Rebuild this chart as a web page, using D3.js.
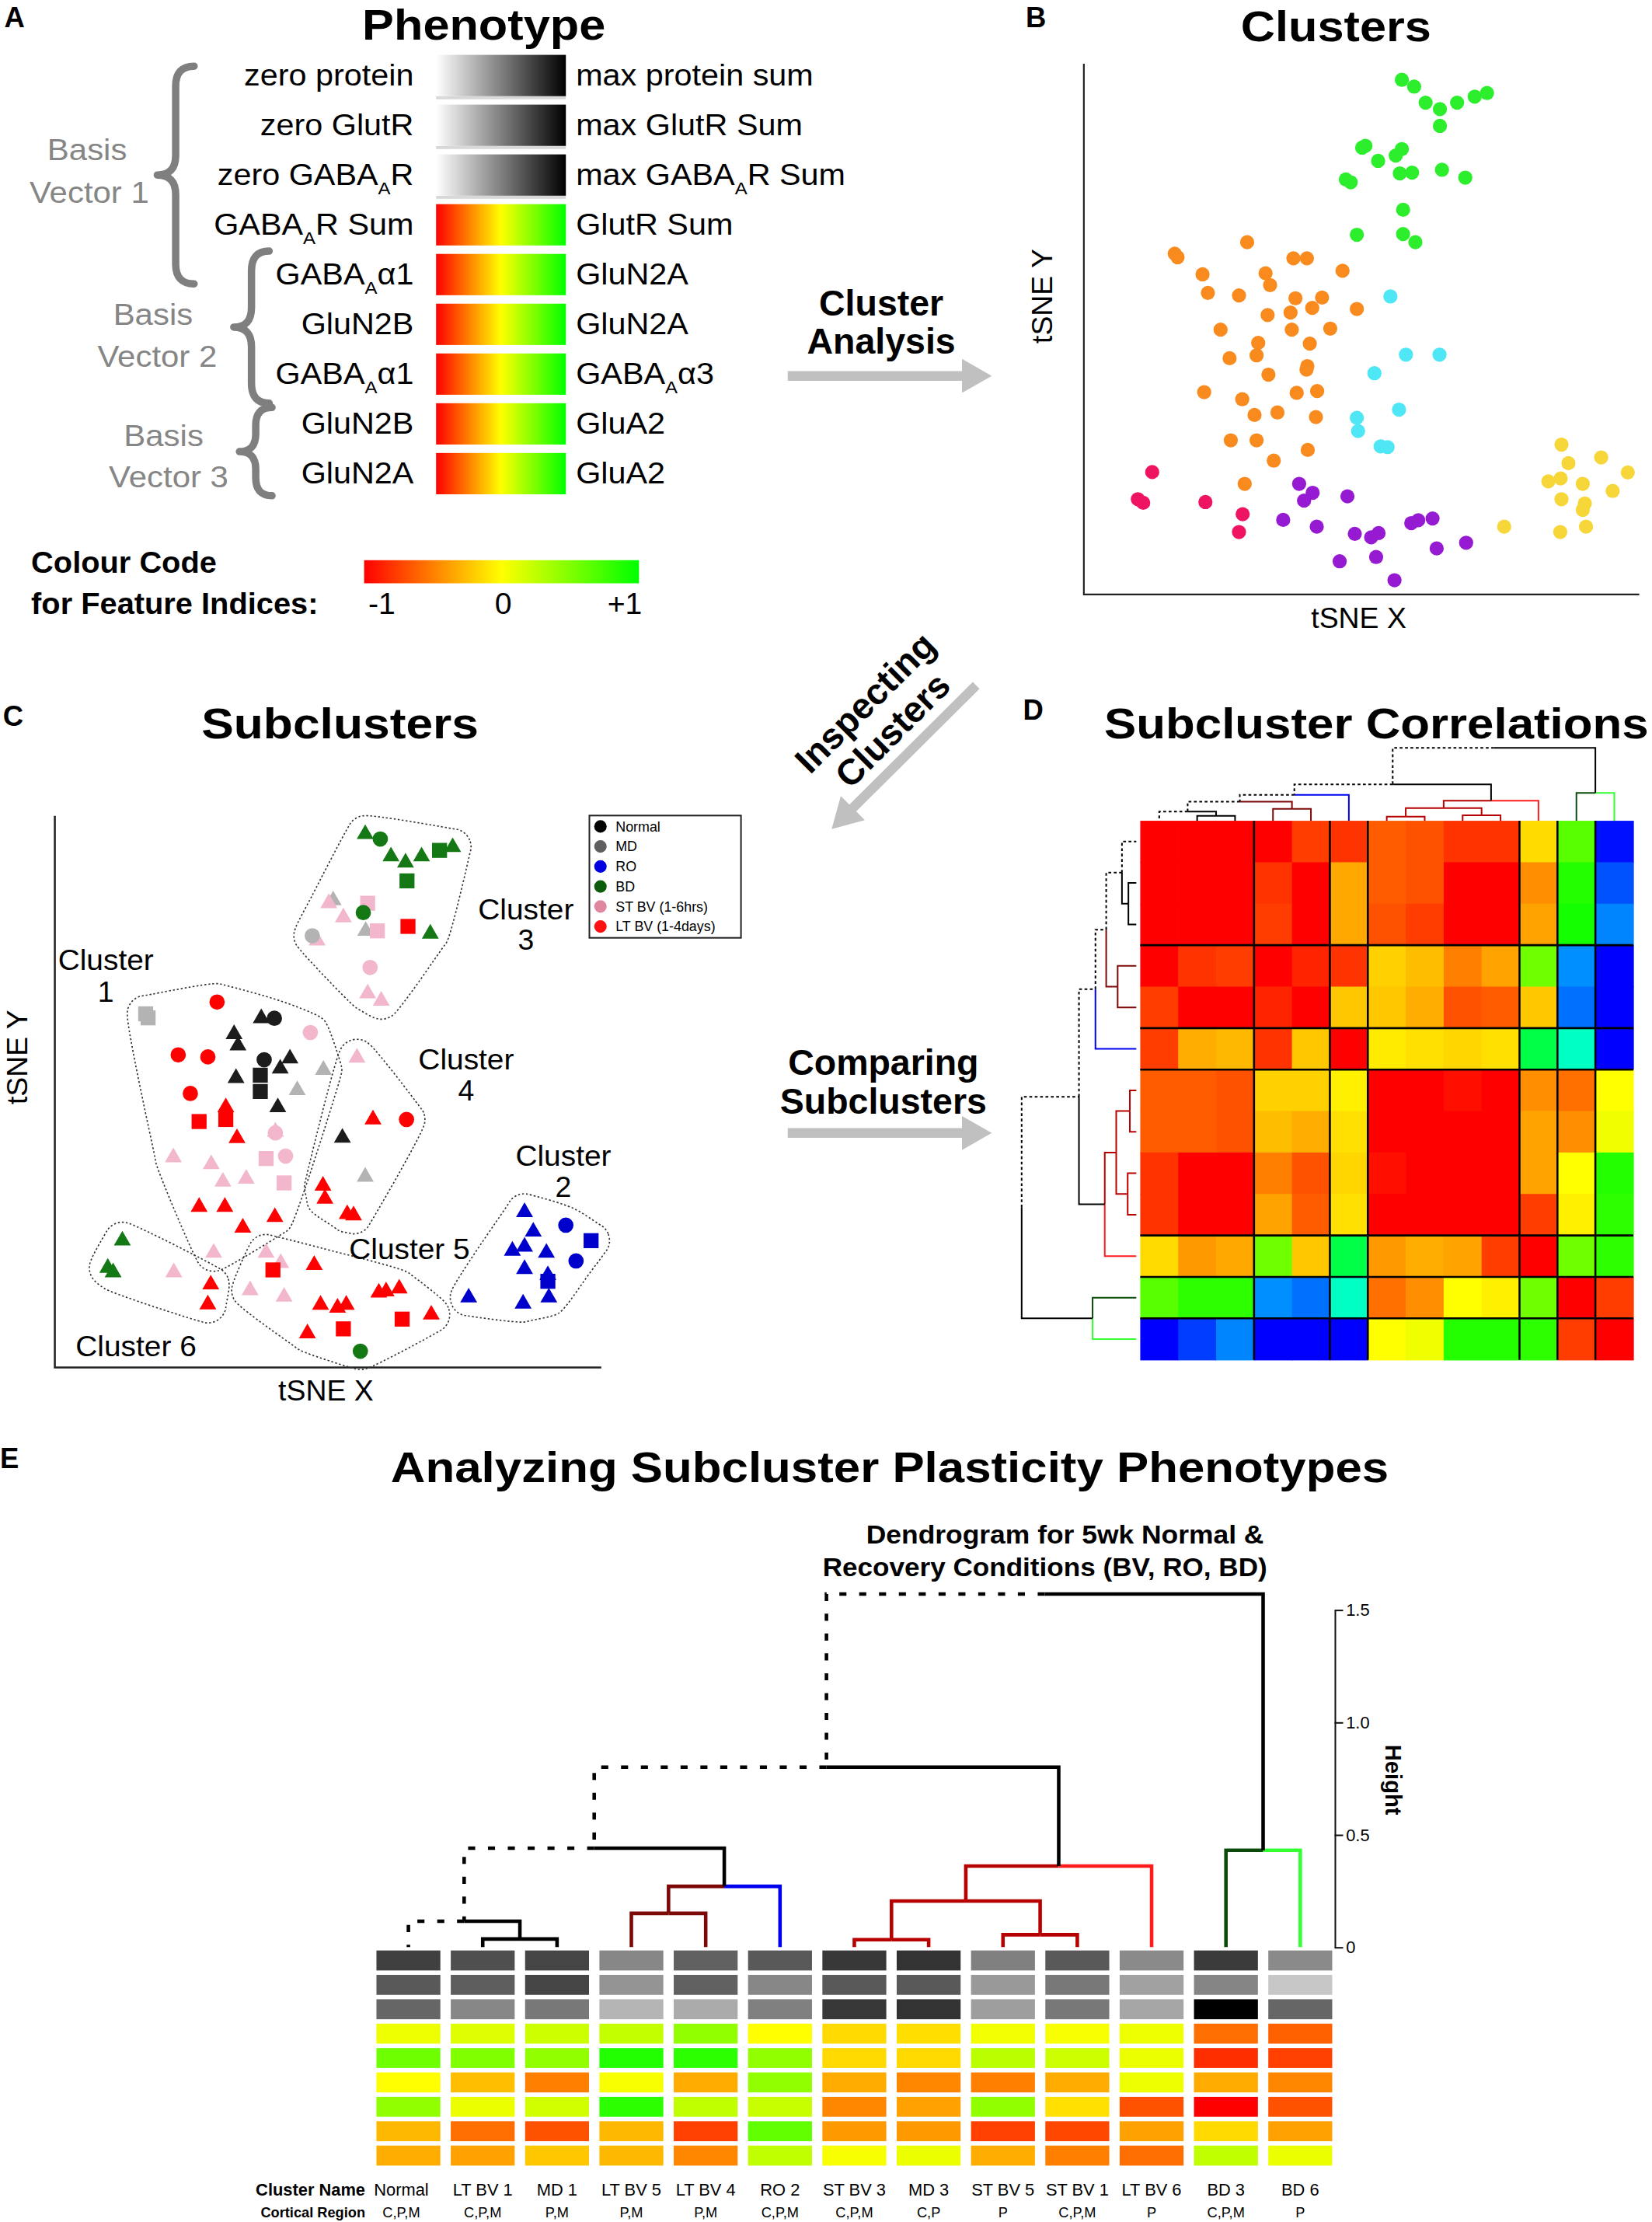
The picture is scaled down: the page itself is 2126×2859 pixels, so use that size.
<!DOCTYPE html>
<html>
<head>
<meta charset="utf-8">
<script src="https://cdn.jsdelivr.net/npm/d3@7"></script>
<style>
  html, body { margin: 0; padding: 0; background: #fff; }
  svg { display: block; }
</style>
</head>
<body>
<div id="chart"></div>
<script>
// ---------- panel A : phenotype features
var phenoLeft = ["zero protein", "zero GlutR", "zero GABA_AR", "GABA_AR Sum", "GABA_A\u03b11", "GluN2B", "GABA_A\u03b11", "GluN2B", "GluN2A"];
var phenoRight = ["max protein sum", "max GlutR Sum", "max GABA_AR Sum", "GlutR Sum", "GluN2A", "GluN2A", "GABA_A\u03b13", "GluA2", "GluA2"];
var phenoKind = ["gray", "gray", "gray", "color", "color", "color", "color", "color", "color"];
var basisNames = [["Basis", "Vector 1"], ["Basis", "Vector 2"], ["Basis", "Vector 3"]];
var basisFirst = [0, 4, 7];
var basisLast = [4, 6, 8];
var featureTicks = [-1, 0, 1];
var featureTickLabels = ["-1", "0", "+1"];

// ---------- panel B : tSNE clusters (arbitrary tSNE units)
var bGreen = [[777,1442],[807,1423],[835,1378],[870,1360],[912,1378],[955,1395],[985,1405],[870,1313],
  [680,1252],[688,1257],[719,1215],[762,1230],[777,1248],[772,1180],[802,1182],[875,1190],[932,1168],
  [640,1163],[652,1155],[780,1078],[667,1008],[780,1010],[810,987]];
var bOrange = [[399,987],[222,955],[229,945],[512,942],[545,942],[290,897],[444,900],[455,867],[632,907],
  [303,845],[379,838],[517,830],[582,832],[558,803],[505,790],[449,783],[667,800],[334,742],[508,742],
  [602,745],[426,705],[552,703],[422,670],[356,662],[546,640],[544,630],[451,616],[294,567],[387,547],
  [520,565],[570,570],[417,503],[473,510],[567,497],[359,432],[422,432],[547,405],[464,375],[393,310]];
var bCyan = [[749,835],[787,672],[869,672],[710,620],[770,518],[667,495],[670,458],[725,415],[742,413]];
var bCrimson = [[167,343],[132,267],[145,257],[297,259],[388,225],[379,175]];
var bPurple = [[526,310],[559,285],[538,263],[644,275],[487,209],[569,190],[662,170],[702,160],[720,172],
  [800,200],[817,208],[852,213],[934,145],[862,129],[625,93],[714,105],[759,40]];
var bYellow = [[1167,420],[1184,368],[1264,384],[1329,342],[1135,317],[1165,325],[1219,310],[1292,290],
  [1167,267],[1224,255],[1219,237],[1027,190],[1164,175],[1227,190]];
var bSeries = [bGreen, bOrange, bCyan, bCrimson, bPurple, bYellow];
var bColors = ["#2cee2c", "#f88a1e", "#4fe6f6", "#ef1462", "#951ad2", "#f7d63a"];

// ---------- panel C : subclusters [x, y, condition, shape]
var c1 = [[187,870,"MD","s"],[192,860,"MD","s"],[334,899,"LT","c"],[425,859,"N","t"],[452,859,"N","c"],
  [526,824,"ST","c"],[369,820,"N","t"],[377,792,"N","t"],[254,769,"LT","c"],[315,764,"LT","c"],
  [431,757,"N","c"],[484,760,"N","t"],[464,735,"N","t"],[423,719,"N","s"],[373,712,"N","t"],
  [423,679,"N","s"],[553,732,"MD","t"],[499,682,"MD","t"],[279,674,"LT","c"],[459,640,"N","t"],
  [352,640,"LT","t"],[297,605,"LT","s"],[352,610,"LT","s"],[454,577,"ST","c"],[454,580,"ST","t"],
  [375,564,"LT","t"],[244,517,"ST","t"],[322,500,"ST","t"],[435,514,"ST","s"],[475,520,"ST","c"],
  [346,457,"ST","t"],[394,464,"ST","t"],[472,454,"ST","s"],[297,395,"LT","t"],[350,395,"LT","t"],
  [453,370,"LT","t"],[387,344,"LT","t"],[327,282,"ST","t"]];
var c2 = [[967,382,"RO","t"],[1052,350,"RO","c"],[985,334,"RO","t"],[1104,312,"RO","s"],[942,287,"RO","t"],
  [967,297,"RO","t"],[1012,282,"RO","t"],[1073,262,"RO","c"],[967,242,"RO","t"],[1015,227,"RO","t"],
  [1015,212,"RO","s"],[852,172,"RO","t"],[964,157,"RO","t"],[1017,172,"RO","t"]];
var c3 = [[639,1312,"BD","t"],[670,1300,"BD","c"],[692,1257,"BD","t"],[722,1242,"BD","t"],[755,1257,"BD","t"],
  [792,1272,"BD","s"],[819,1280,"BD","t"],[725,1197,"BD","s"],[573,1149,"MD","t"],[564,1142,"ST","t"],
  [644,1142,"ST","s"],[635,1119,"BD","c"],[594,1107,"ST","t"],[640,1074,"MD","t"],[664,1074,"ST","s"],
  [727,1085,"LT","s"],[773,1067,"BD","t"],[540,1050,"ST","t"],[530,1062,"MD","c"],[649,984,"ST","c"],
  [644,920,"ST","t"],[672,902,"ST","t"]];
var c4 = [[622,762,"ST","t"],[655,610,"LT","t"],[724,610,"LT","c"],[592,565,"N","t"],[639,469,"MD","t"],
  [552,447,"LT","t"],[556,415,"LT","t"],[602,377,"LT","t"],[615,374,"LT","t"]];
var c5 = [[435,282,"ST","t"],[465,257,"ST","t"],[449,240,"LT","s"],[534,252,"LT","t"],[402,190,"ST","t"],
  [472,174,"ST","t"],[667,184,"LT","t"],[682,187,"LT","t"],[709,194,"LT","t"],[547,154,"LT","t"],
  [582,147,"LT","t"],[600,154,"LT","t"],[715,119,"LT","s"],[775,130,"LT","t"],[594,95,"LT","s"],
  [520,84,"LT","t"],[629,40,"BD","c"]];
var c6 = [[139,312,"BD","t"],[109,245,"BD","t"],[120,234,"BD","t"],[245,234,"ST","t"],[321,204,"LT","t"],
  [315,155,"LT","t"]];
var cSeries = [c1, c2, c3, c4, c5, c6];
var conditions = ["N", "MD", "RO", "BD", "ST", "LT"];
var conditionNames = ["Normal", "MD", "RO", "BD", "ST BV (1-6hrs)", "LT BV (1-4days)"];
var conditionColors = ["#1c1c1c", "#b3b3b3", "#0000cc", "#147814", "#f3b7cd", "#ff0000"];
var conditionLegendColors = ["#000000", "#5f5f5f", "#0000e0", "#0b5c0b", "#de879f", "#ff1010"];

// ---------- panels D and E : subclusters
var clusterNames = ["Normal", "LT BV 1", "MD 1", "LT BV 5", "LT BV 4", "RO 2", "ST BV 3", "MD 3", "ST BV 5", "ST BV 1", "LT BV 6", "BD 3", "BD 6"];
var corticalRegions = ["C,P,M", "C,P,M", "P,M", "P,M", "P,M", "C,P,M", "C,P,M", "C,P", "P", "C,P,M", "P", "C,P,M", "P"];
var branchColors = ["#000000", "#000000", "#000000", "#7c0808", "#7c0808", "#0000f0", "#b80000", "#b80000", "#b80000", "#b80000", "#ff1c1c", "#0a4a0a", "#33ff33"];

// correlation matrix of subclusters (panel D)
var corrD = [
  [1, 1, 1, 1, 0.88, 0.9, 0.82, 0.84, 0.9, 0.9, 0.57, 0.17, -0.97],
  [1, 1, 1, 0.9, 1, 0.67, 0.82, 0.84, 1, 1, 0.72, 0.07, -0.84],
  [1, 1, 1, 0.88, 1, 0.67, 0.84, 0.88, 1, 1, 0.68, 0.04, -0.74],
  [1, 0.9, 0.88, 1, 0.93, 0.9, 0.59, 0.63, 0.75, 0.68, 0.22, -0.72, -1],
  [0.88, 1, 1, 0.93, 1, 0.61, 0.61, 0.66, 0.84, 0.82, 0.61, -0.78, -1],
  [0.88, 0.66, 0.64, 0.9, 0.61, 1, 0.54, 0.56, 0.58, 0.56, -0.14, -0.38, -1],
  [0.82, 0.82, 0.84, 0.59, 0.59, 0.53, 1, 1, 0.97, 1, 0.72, 0.78, 0.5],
  [0.82, 0.82, 0.84, 0.63, 0.66, 0.56, 1, 1, 1, 1, 0.68, 0.72, 0.47],
  [0.9, 1, 1, 0.75, 0.84, 0.58, 0.97, 1, 1, 1, 0.68, 0.5, 0.07],
  [0.9, 1, 1, 0.68, 0.82, 0.56, 1, 1, 1, 1, 0.88, 0.53, 0.09],
  [0.57, 0.7, 0.67, 0.22, 0.61, -0.14, 0.7, 0.66, 0.68, 0.88, 1, 0.22, 0.09],
  [0.17, 0.09, 0.09, -0.72, -0.78, -0.38, 0.78, 0.72, 0.5, 0.53, 0.22, 1, 0.88],
  [-1, -0.88, -0.74, -1, -1, -1, 0.5, 0.47, 0.07, 0.07, 0.09, 0.88, 1]
];
var groupBreaks = [3, 5, 6, 10, 11, 12];
// merges: [left, right, height]; numbers are leaves, "mK" is the K-th merge
var mergesD = [[1, 2, 0.11], [0, "m0", 0.2], [3, 4, 0.26], ["m1", "m2", 0.42], ["m3", 5, 0.57],
  [6, 7, 0.09], [8, 9, 0.12], ["m5", "m6", 0.28], ["m7", 10, 0.44], ["m4", "m8", 0.8],
  [11, 12, 0.61], ["m9", "m10", 1.6]];
var mergesE = [[1, 2, 0.036], [0, "m0", 0.115], [3, 4, 0.15], ["m2", 5, 0.27], ["m1", "m3", 0.44],
  [6, 7, 0.033], [8, 9, 0.055], ["m5", "m6", 0.205], ["m7", 10, 0.36], ["m4", "m8", 0.8],
  [11, 12, 0.43], ["m9", "m10", 1.57]];
var heightTicks = [0, 0.5, 1, 1.5];

// panel E : protein sums (0 = zero, 1 = max) and feature indices (-1 .. +1)
var sumProtein = [0.75, 0.69, 0.73, 0.47, 0.62, 0.65, 0.78, 0.8, 0.5, 0.65, 0.46, 0.77, 0.46];
var sumGlutR = [0.65, 0.63, 0.73, 0.42, 0.62, 0.47, 0.65, 0.65, 0.4, 0.53, 0.37, 0.48, 0.22];
var sumGabaR = [0.6, 0.47, 0.53, 0.29, 0.33, 0.5, 0.78, 0.8, 0.38, 0.53, 0.35, 1, 0.6];
var idxGabaGlut = [0.07, 0.13, 0.2, 0.23, 0.43, 0, -0.15, -0.13, 0.05, 0.03, 0.07, -0.57, -0.62];
var idxA1N2A = [0.57, 0.5, 0.43, 0.87, 0.83, 0.43, -0.15, -0.15, 0.27, 0.2, 0.08, -0.82, -0.75];
var idxN2BN2A = [0, -0.25, -0.5, 0.03, -0.33, 0.43, -0.33, -0.47, -0.5, -0.33, 0.07, -0.33, -0.47];
var idxA1A3 = [0.43, 0.08, 0.18, 0.83, 0.25, 0.22, -0.47, -0.37, 0.43, -0.12, -0.68, -1, -0.68];
var idxN2BA2 = [-0.28, -0.57, -0.68, -0.28, -0.75, 0.62, -0.4, -0.4, -0.75, -0.72, -0.37, -0.15, -0.37];
var idxN2AA2 = [-0.32, -0.37, -0.22, -0.28, -0.47, 0.25, 0.03, 0.08, -0.32, -0.5, -0.57, 0.25, 0.08];
var sumRows = [sumProtein, sumGlutR, sumGabaR];
var indexRows = [idxGabaGlut, idxA1N2A, idxN2BN2A, idxA1A3, idxN2BA2, idxN2AA2];

// ---------- scales and helpers
var FONT = '"Liberation Sans", Arial, Helvetica, sans-serif';
var featColor = d3.scaleLinear().domain([-1, 0, 1]).range(["#ff0000", "#ffff00", "#00ff00"]);
var sumColor = d3.scaleLinear().domain([0, 1]).range(["#ffffff", "#000000"]);
var corrColor = d3.scaleLinear().domain([-1, -0.5, 0, 0.5, 1])
  .range(["#0000ff", "#00ffff", "#00ff00", "#ffff00", "#ff0000"]);

var svg = d3.select("#chart").append("svg")
  .attr("width", 2126)
  .attr("height", 2859)
  .attr("viewBox", "0 0 1166 1568")
  .style("font-family", FONT);

svg.append("rect").attr("width", 1166).attr("height", 1568).attr("fill", "#fff");

function txt(parent, x, y, s, size, anchor, weight, fill) {
  return parent.append("text")
    .attr("x", x).attr("y", y)
    .attr("font-size", size)
    .attr("text-anchor", anchor || "start")
    .attr("font-weight", weight || "normal")
    .attr("fill", fill || "#000")
    .text(s);
}

// the original lettering is a little wider than Liberation Sans
function stretch(t, k) {
  var len = t.node().getComputedTextLength();
  return t.attr("textLength", len * k).attr("lengthAdjust", "spacingAndGlyphs");
}

// text with "_A" style subscripts
function richText(parent, x, y, s, size, anchor) {
  var t = parent.append("text")
    .attr("x", x).attr("y", y)
    .attr("font-size", size)
    .attr("text-anchor", anchor);
  var parts = s.split("_");
  t.append("tspan").text(parts[0]);
  for (var i = 1; i < parts.length; i++) {
    t.append("tspan").attr("dy", size * 0.3).attr("font-size", size * 0.58).text(parts[i].charAt(0));
    t.append("tspan").attr("dy", -size * 0.3).text(parts[i].slice(1));
  }
  return t;
}

function arrowPath(x1, y1, x2, y2) {
  var dx = x2 - x1, dy = y2 - y1, len = Math.sqrt(dx * dx + dy * dy);
  var ux = dx / len, uy = dy / len, nx = -uy, ny = ux;
  var sw = 3.4, hw = 12, hl = 21;
  var bx = x2 - ux * hl, by = y2 - uy * hl;
  var p = [
    [x1 + nx * sw, y1 + ny * sw], [bx + nx * sw, by + ny * sw], [bx + nx * hw, by + ny * hw],
    [x2, y2], [bx - nx * hw, by - ny * hw], [bx - nx * sw, by - ny * sw], [x1 - nx * sw, y1 - ny * sw]
  ];
  return "M" + p.map(function (d) { return d[0] + "," + d[1]; }).join("L") + "Z";
}

function bracePath(xTip, xEnd, y1, y2) {
  var ym = (y1 + y2) / 2, xm = (xTip + xEnd) / 2;
  var q = Math.min(14, (y2 - y1) / 5);
  return "M" + xEnd + "," + y1 +
    "Q" + xm + "," + y1 + " " + xm + "," + (y1 + q) +
    "L" + xm + "," + (ym - q) +
    "Q" + xm + "," + ym + " " + xTip + "," + ym +
    "Q" + xm + "," + ym + " " + xm + "," + (ym + q) +
    "L" + xm + "," + (y2 - q) +
    "Q" + xm + "," + y2 + " " + xEnd + "," + y2;
}

// dendrogram links from a merge table
function treeLinks(merges, leafPos) {
  var nodes = {};
  var links = [];
  function get(ref) {
    if (typeof ref === "number") {
      return { p: leafPos(ref), h: 0, color: branchColors[ref], leaves: [ref] };
    }
    return nodes[ref];
  }
  merges.forEach(function (m, i) {
    var a = get(m[0]), b = get(m[1]);
    var node = {
      p: (a.p + b.p) / 2, h: m[2],
      color: a.color === b.color ? a.color : "#000000",
      leaves: a.leaves.concat(b.leaves)
    };
    [a, b].forEach(function (c) {
      links.push({ pp: node.p, ph: node.h, cp: c.p, ch: c.h, color: c.color, dashed: c.leaves.indexOf(0) >= 0 });
    });
    nodes["m" + i] = node;
  });
  return links;
}

function drawTree(g, links, hScale, vertical, width, dash) {
  g.selectAll("path").data(links).enter().append("path")
    .attr("d", function (d) {
      if (vertical) {
        return "M" + d.pp + "," + hScale(d.ph) + "H" + d.cp + "V" + hScale(d.ch);
      }
      return "M" + hScale(d.ph) + "," + d.pp + "V" + d.cp + "H" + hScale(d.ch);
    })
    .attr("fill", "none")
    .attr("stroke", function (d) { return d.color; })
    .attr("stroke-width", width)
    .attr("stroke-dasharray", function (d) { return d.dashed ? dash : null; });
}

// gradients
var defs = svg.append("defs");
var gGray = defs.append("linearGradient").attr("id", "gradGray");
gGray.append("stop").attr("offset", 0).attr("stop-color", "#ffffff");
gGray.append("stop").attr("offset", 1).attr("stop-color", "#000000");
var gFeat = defs.append("linearGradient").attr("id", "gradFeat");
featureTicks.forEach(function (v) {
  gFeat.append("stop").attr("offset", (v + 1) / 2).attr("stop-color", featColor(v));
});

// ---------- panel labels and titles
var panelLetters = [["A", 3, 19], ["B", 724, 19], ["C", 2, 512], ["D", 722, 508], ["E", 0, 1036]];
panelLetters.forEach(function (p) { txt(svg, p[1], p[2], p[0], 20, "start", "bold"); });
stretch(txt(svg, 341.5, 28, "Phenotype", 30, "middle", "bold"), 1.12);
stretch(txt(svg, 943, 29, "Clusters", 30, "middle", "bold"), 1.12);
stretch(txt(svg, 240, 521, "Subclusters", 30, "middle", "bold"), 1.14);
stretch(txt(svg, 971.5, 521, "Subcluster Correlations", 30, "middle", "bold"), 1.13);
stretch(txt(svg, 628, 1046, "Analyzing Subcluster Plasticity Phenotypes", 30, "middle", "bold"), 1.13);

// ---------- panel A
var gA = svg.append("g");
var rowA = d3.scaleBand().domain(d3.range(phenoLeft.length)).range([38.7, 348.8]).paddingInner(0.17);
gA.selectAll("rect.shadow").data(phenoKind.filter(function (d) { return d === "gray"; })).enter().append("rect")
  .attr("x", 307.8).attr("width", 91.6)
  .attr("y", function (d, i) { return rowA(i) + rowA.bandwidth(); })
  .attr("height", 2.2)
  .attr("fill", "#d8d8d8");
gA.selectAll("rect.bar").data(phenoKind).enter().append("rect")
  .attr("x", 307.8).attr("width", 91.6)
  .attr("y", function (d, i) { return rowA(i); })
  .attr("height", rowA.bandwidth())
  .attr("fill", function (d) { return d === "gray" ? "url(#gradGray)" : "url(#gradFeat)"; });
phenoLeft.forEach(function (s, i) {
  stretch(richText(gA, 292, rowA(i) + rowA.bandwidth() / 2 + 7, s, 21.5, "end"), 1.055);
});
phenoRight.forEach(function (s, i) {
  stretch(richText(gA, 406.5, rowA(i) + rowA.bandwidth() / 2 + 7, s, 21.5, "start"), 1.055);
});
// braces for the basis vectors
var braceX = [[111, 137], [165, 190], [169, 192]];
var braceInset = [[8, 8], [-2, -6], [3, -1]];
var basisText = [[61.5, 113, 63, 143], [108, 229.5, 111, 259], [115.5, 315, 119, 344]];
basisNames.forEach(function (nm, k) {
  var y1 = rowA(basisFirst[k]) + braceInset[k][0];
  var y2 = rowA(basisLast[k]) + rowA.bandwidth() - braceInset[k][1];
  gA.append("path").attr("d", bracePath(braceX[k][0], braceX[k][1], y1, y2))
    .attr("fill", "none").attr("stroke", "#7f7f7f").attr("stroke-width", 5.2)
    .attr("stroke-linecap", "round").attr("stroke-linejoin", "round");
  stretch(txt(gA, basisText[k][0], basisText[k][1], nm[0], 21.5, "middle", "normal", "#868686"), 1.07);
  stretch(txt(gA, basisText[k][2], basisText[k][3], nm[1], 21.5, "middle", "normal", "#868686"), 1.07);
});
// colour code legend
stretch(txt(gA, 22, 404, "Colour Code", 21, "start", "bold"), 1.04);
stretch(txt(gA, 22, 433, "for Feature Indices:", 21, "start", "bold"), 1.04);
gA.append("rect").attr("x", 257).attr("y", 395.3).attr("width", 194).attr("height", 16.3)
  .attr("fill", "url(#gradFeat)");
var legX = d3.scaleLinear().domain([-1, 1]).range([269.5, 441]);
featureTicks.forEach(function (v, i) {
  txt(gA, legX(v), 433, featureTickLabels[i], 21.5, "middle");
});

// ---------- arrows between panels
var gArr = svg.append("g");
gArr.append("path").attr("d", arrowPath(556, 265.3, 700, 265.3)).attr("fill", "#c0c0c0");
gArr.append("path").attr("d", arrowPath(556, 799.5, 700, 799.5)).attr("fill", "#c0c0c0");
gArr.append("path").attr("d", arrowPath(689, 483.6, 587, 585)).attr("fill", "#c0c0c0");
txt(gArr, 622, 222.5, "Cluster", 25.5, "middle", "bold");
txt(gArr, 622, 249.5, "Analysis", 25.5, "middle", "bold");
txt(gArr, 623.5, 758.5, "Comparing", 25.5, "middle", "bold");
txt(gArr, 623.5, 786, "Subclusters", 25.5, "middle", "bold");
var gRot = gArr.append("g").attr("transform", "translate(620.3,505.5) rotate(-45)");
txt(gRot, 0, -5, "Inspecting", 25.5, "middle", "bold");
txt(gRot, 0, 22.5, "Clusters", 25.5, "middle", "bold");

// ---------- panel B
var gB = svg.append("g");
var xB = d3.scaleLinear().domain([0, 1357]).range([765, 1157]);
var yB = d3.scaleLinear().domain([0, 1487]).range([419.5, 45]);
gB.append("path").attr("d", "M" + xB(0) + "," + yB(1487) + "V" + yB(0) + "H" + xB(1357))
  .attr("fill", "none").attr("stroke", "#222").attr("stroke-width", 1.2);
bSeries.forEach(function (pts, k) {
  gB.selectAll(null).data(pts).enter().append("circle")
    .attr("cx", function (d) { return xB(d[0]); })
    .attr("cy", function (d) { return yB(d[1]); })
    .attr("r", 5)
    .attr("fill", bColors[k]);
});
txt(gB, 959, 443, "tSNE X", 20.5, "middle");
txt(gB, 0, 0, "tSNE Y", 20.5, "middle").attr("transform", "translate(742.5,209) rotate(-90)");

// ---------- panel C
var gC = svg.append("g");
var xC = d3.scaleLinear().domain([0, 1125]).range([38.7, 424.4]);
var yC = d3.scaleLinear().domain([0, 1357]).range([965, 575.7]);
gC.append("path").attr("d", "M" + xC(0) + "," + yC(1357) + "V" + yC(0) + "H" + xC(1125))
  .attr("fill", "none").attr("stroke", "#222").attr("stroke-width", 1.4);

// dotted outlines around each subcluster
cSeries.forEach(function (pts) {
  var ring = [];
  pts.forEach(function (p) {
    for (var k = 0; k < 16; k++) {
      var a = k / 16 * 2 * Math.PI;
      ring.push([xC(p[0]) + 13 * Math.cos(a), yC(p[1]) + 13 * Math.sin(a)]);
    }
  });
  var hull = d3.polygonHull(ring);
  gC.append("path").attr("d", d3.line().curve(d3.curveCatmullRomClosed)(hull))
    .attr("fill", "none").attr("stroke", "#333").attr("stroke-width", 0.9)
    .attr("stroke-dasharray", "1.3,1.5");
});

var symbolType = { c: d3.symbolCircle, t: d3.symbolTriangle, s: d3.symbolSquare };
var symbolSize = { c: 92, t: 62, s: 112 };
cSeries.forEach(function (pts) {
  gC.selectAll(null).data(pts).enter().append("path")
    .attr("transform", function (d) { return "translate(" + xC(d[0]) + "," + yC(d[1]) + ")"; })
    .attr("d", function (d) { return d3.symbol().type(symbolType[d[3]]).size(symbolSize[d[3]])(); })
    .attr("fill", function (d) { return conditionColors[conditions.indexOf(d[2])]; });
});

var clusterLabels = [
  ["Cluster", "1", 74.7, 684.7, 706.8], ["Cluster", "2", 397.6, 822.4, 844.5],
  ["Cluster", "3", 371.2, 648.8, 670.4], ["Cluster", "4", 329, 754.4, 776.5],
  ["Cluster 5", null, 289, 888.4], ["Cluster 6", null, 96, 957.2]
];
clusterLabels.forEach(function (c) {
  stretch(txt(gC, c[2], c[3], c[0], 20.5, "middle"), 1.04);
  if (c[1]) txt(gC, c[2], c[4], c[1], 20.5, "middle");
});
txt(gC, 230, 988.5, "tSNE X", 20.5, "middle");
txt(gC, 0, 0, "tSNE Y", 20.5, "middle").attr("transform", "translate(19,746) rotate(-90)");

// legend
var gLeg = gC.append("g");
gLeg.append("rect").attr("x", 416).attr("y", 575.5).attr("width", 107).attr("height", 86.3)
  .attr("fill", "#fff").attr("stroke", "#222").attr("stroke-width", 1.1);
var legY = d3.scaleLinear().domain([0, 5]).range([583.2, 653.8]);
conditionNames.forEach(function (nm, i) {
  gLeg.append("circle").attr("cx", 423.8).attr("cy", legY(i)).attr("r", 4.4)
    .attr("fill", conditionLegendColors[i]);
  txt(gLeg, 434.5, legY(i) + 3.4, nm, 9.8, "start");
});

// ---------- panel D
var gD = svg.append("g");
var xD = d3.scaleBand().domain(d3.range(13)).range([804.8, 1152.8]);
var yD = d3.scaleBand().domain(d3.range(13)).range([579.2, 959.6]);
corrD.forEach(function (row, i) {
  gD.selectAll(null).data(row).enter().append("rect")
    .attr("x", function (d, j) { return xD(j); })
    .attr("y", yD(i))
    .attr("width", xD.bandwidth() + 0.4)
    .attr("height", yD.bandwidth() + 0.4)
    .attr("fill", function (d) { return corrColor(d); });
});
groupBreaks.forEach(function (b) {
  gD.append("line").attr("x1", xD(b)).attr("x2", xD(b)).attr("y1", yD.range()[0]).attr("y2", yD.range()[1])
    .attr("stroke", "#000").attr("stroke-width", 1.4);
  gD.append("line").attr("y1", yD(b)).attr("y2", yD(b)).attr("x1", xD.range()[0]).attr("x2", xD.range()[1])
    .attr("stroke", "#000").attr("stroke-width", 1.4);
});
var hTopD = d3.scaleLinear().domain([0, 1.6]).range([579.2, 527.8]);
var hLeftD = d3.scaleLinear().domain([0, 1.6]).range([802, 721.1]);
drawTree(gD.append("g"), treeLinks(mergesD, function (i) { return xD(i) + xD.bandwidth() / 2; }),
  hTopD, true, 1.1, "2,1.8");
drawTree(gD.append("g"), treeLinks(mergesD, function (i) { return yD(i) + yD.bandwidth() / 2; }),
  hLeftD, false, 1.1, "2,1.8");

// ---------- panel E
var gE = svg.append("g");
var xE = d3.scaleBand().domain(d3.range(13)).range([265.7, 940.3]).paddingInner(0.14);
var yE = d3.scaleBand().domain(d3.range(9)).range([1376.4, 1528.2]).paddingInner(0.18);
var allRows = sumRows.concat(indexRows);
allRows.forEach(function (row, r) {
  gE.selectAll(null).data(row).enter().append("rect")
    .attr("x", function (d, j) { return xE(j); })
    .attr("y", yE(r))
    .attr("width", xE.bandwidth())
    .attr("height", yE.bandwidth())
    .attr("fill", function (d) { return r < sumRows.length ? sumColor(d) : featColor(d); });
});
var hE = d3.scaleLinear().domain([0, 1.5]).range([1374, 1374 - 1.5 * 158.7]);
drawTree(gE.append("g"), treeLinks(mergesE, function (i) { return xE(i) + xE.bandwidth() / 2; }),
  hE, true, 2.5, "5,9");

var axisE = gE.append("g").attr("transform", "translate(942,0)")
  .call(d3.axisRight(hE).tickValues(heightTicks).tickSize(6).tickSizeOuter(0).tickPadding(2)
    .tickFormat(function (d) { return d === 0 ? "0" : d3.format(".1f")(d); }));
axisE.selectAll("text").attr("font-size", 12).attr("font-family", FONT);
axisE.selectAll("path, line").attr("stroke", "#111").attr("stroke-width", 1.1);
txt(gE, 0, 0, "Height", 16, "middle", "bold").attr("transform", "translate(978,1256) rotate(90)");

stretch(txt(gE, 751.7, 1089, "Dendrogram for 5wk Normal &", 18, "middle", "bold"), 1.08);
stretch(txt(gE, 737.5, 1112.5, "Recovery Conditions (BV, RO, BD)", 18, "middle", "bold"), 1.07);

txt(gE, 257.8, 1549.5, "Cluster Name", 12, "end", "bold");
txt(gE, 257.8, 1564.5, "Cortical Region", 10, "end", "bold");
clusterNames.forEach(function (nm, i) {
  txt(gE, xE(i) + xE.bandwidth() / 2 - (i === 0 ? 5 : 0), 1549.5, nm, 12, "middle");
  txt(gE, xE(i) + xE.bandwidth() / 2 - (i === 0 ? 5 : 0), 1564.5, corticalRegions[i], 10, "middle");
});
</script>
</body>
</html>
